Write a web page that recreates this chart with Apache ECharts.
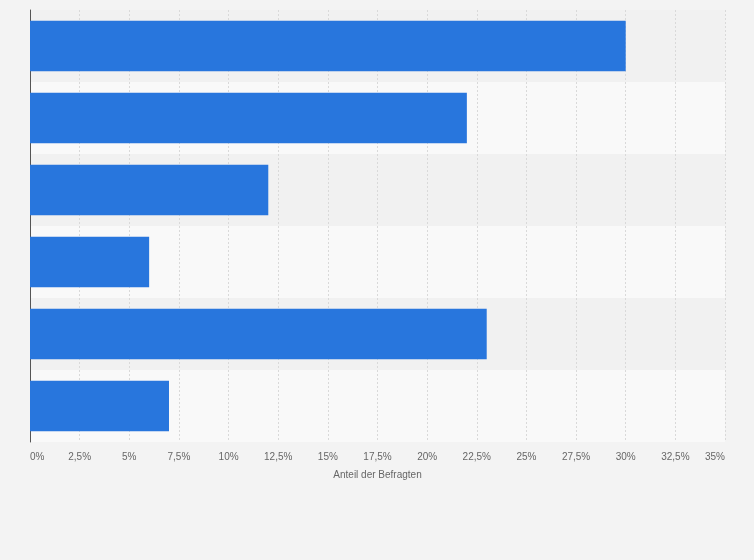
<!DOCTYPE html>
<html>
<head>
<meta charset="utf-8">
<script src="https://cdn.jsdelivr.net/npm/echarts@6/dist/echarts.min.js"></script>
<style>
html,body{margin:0;padding:0;background:#f3f3f3;}
#c{width:754px;height:560px;}
</style>
</head>
<body>
<div id="c"></div>
<script>
var categories = ['Kategorie 1','Kategorie 2','Kategorie 3','Kategorie 4','Kategorie 5','Kategorie 6'];
var values = [30, 22, 12, 6, 23, 7];
var axisTitle = 'Anteil der Befragten';

var chart = echarts.init(document.getElementById('c'));
chart.setOption({
  backgroundColor: '#f3f3f3',
  animation: false,
  grid: {left: 30, right: 29, top: 10, bottom: 118, containLabel: false},
  xAxis: {
    type: 'value', min: 0, max: 35, interval: 2.5,
    name: axisTitle, nameLocation: 'middle', nameGap: 28,
    nameTextStyle: {color: '#666', fontSize: 10, fontFamily: 'Arial, Liberation Sans, sans-serif'},
    axisLine: {show: false}, axisTick: {show: false},
    axisLabel: {
      color: '#666', fontSize: 10, margin: 10, fontFamily: 'Arial, Liberation Sans, sans-serif',
      alignMinLabel: 'left', alignMaxLabel: 'right',
      formatter: function (v) { return String(v).replace('.', ',') + '%'; }
    },
    splitLine: {show: true, lineStyle: {color: '#d9d9d9', type: [2, 2], width: 1}}
  },
  yAxis: {
    type: 'category', data: categories, inverse: true,
    axisLine: {show: true, lineStyle: {color: '#555', width: 1}},
    axisTick: {show: false}, axisLabel: {show: false},
    splitArea: {show: true, areaStyle: {color: ['#f1f1f1', '#f9f9f9']}}
  },
  series: [{
    type: 'bar', data: values, barCategoryGap: '30%',
    itemStyle: {color: '#2876dd'}
  }]
});
</script>
</body>
</html>
